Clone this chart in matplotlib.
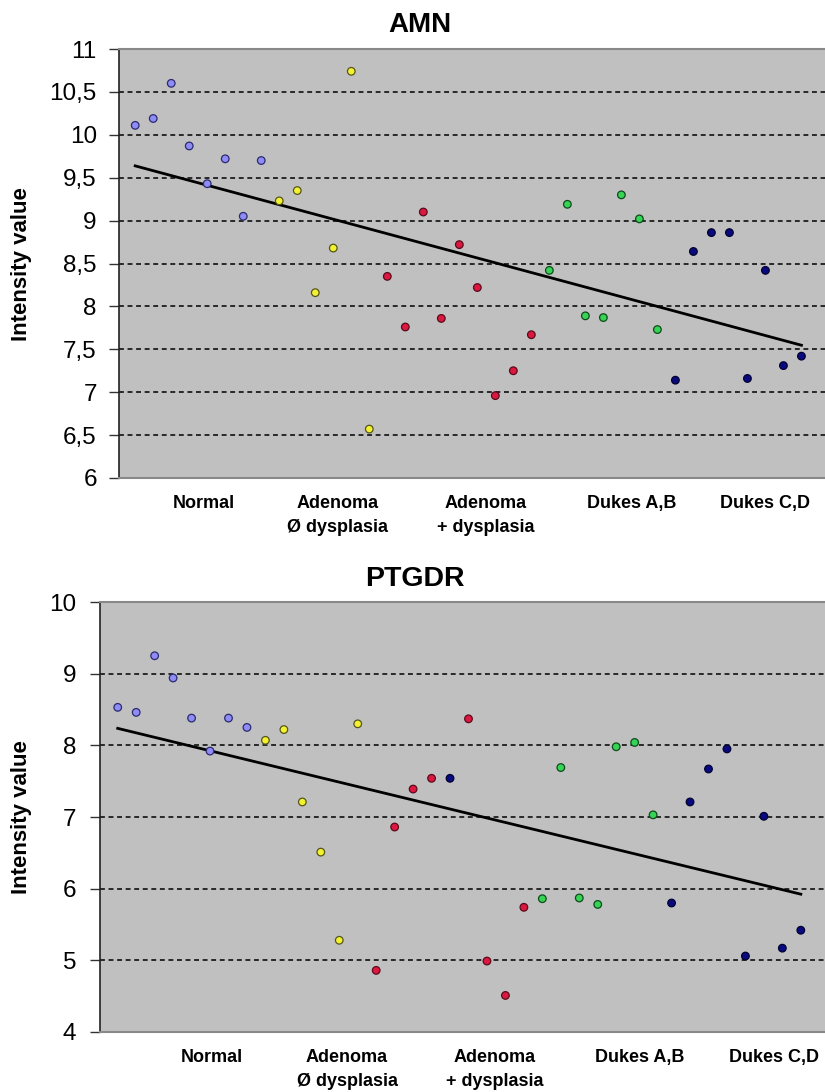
import numpy as np
import matplotlib
matplotlib.use("Agg")
import matplotlib.pyplot as plt
from matplotlib.ticker import FuncFormatter

# ---------------- data ----------------
categories = ["Normal", "Adenoma\nØ dysplasia", "Adenoma\n+ dysplasia", "Dukes A,B", "Dukes C,D"]

# AMN
amn_normal = [10.11, 10.19, 10.60, 9.87, 9.43, 9.72, 9.05, 9.70]
amn_adeno_no = [9.23, 9.35, 8.16, 8.68, 10.74, 6.57]
amn_adeno_dys = [8.35, 7.76, 9.10, 7.86, 8.72, 8.22, 6.96, 7.25, 7.67]
amn_dukes_ab = [8.42, 9.19, 7.89, 7.87, 9.30, 9.02, 7.73]
amn_dukes_cd = [7.14, 8.64, 8.86, 8.86, 7.16, 8.42, 7.31, 7.42]

# PTGDR
ptgdr_normal = [8.53, 8.46, 9.25, 8.94, 8.38, 7.92, 8.38, 8.25]
ptgdr_adeno_no = [8.07, 8.22, 7.21, 6.51, 5.28, 8.30]
ptgdr_adeno_dys = [4.86, 6.86, 7.39, 7.54, 7.54, 8.37, 4.99, 4.51, 5.74]
ptgdr_adeno_dys_class = [2, 2, 2, 2, 4, 2, 2, 2, 2]   # one point plotted in the Dukes C,D colour
ptgdr_dukes_ab = [5.86, 7.69, 5.87, 5.78, 7.98, 8.04, 7.03]
ptgdr_dukes_cd = [5.80, 7.21, 7.67, 7.95, 5.06, 7.01, 5.17, 5.42]

amn_yticks = [6, 6.5, 7, 7.5, 8, 8.5, 9, 9.5, 10, 10.5, 11]
ptgdr_yticks = [4, 5, 6, 7, 8, 9, 10]

amn_label_pos = [4.79, 12.22, 20.48, 28.55, 35.95]
ptgdr_label_pos = [6.1, 13.42, 21.4, 29.3, 36.57]

# ---------------- style ----------------
face_cols = ["#8f8cf5", "#f2f230", "#dc1740", "#36d455", "#0a0a80"]
edge_cols = ["#2a2a70", "#55551a", "#5a0a1a", "#0d4a1a", "#000030"]
BG = "#c0c0c0"

plt.rcParams["font.family"] = ["Liberation Sans", "DejaVu Sans"]

fig = plt.figure(figsize=(8.25, 10.92), dpi=100)

def comma(v, pos):
    s = ("%g" % v)
    return s.replace(".", ",")

def draw(ax, groups, classes, yticks, ylim, xlim, label_pos, tick_pad):
    ax.set_facecolor(BG)
    allv = []
    idx = 1
    for gi, vals in enumerate(groups):
        cls = classes[gi]
        xs = np.arange(idx, idx + len(vals))
        fc = [face_cols[c] for c in cls]
        ec = [edge_cols[c] for c in cls]
        ax.scatter(xs, vals, s=30, c=fc, edgecolors=ec, linewidths=0.9, zorder=4)
        allv.extend(vals)
        idx += len(vals)
    xall = np.arange(1, len(allv) + 1)
    slope, icpt = np.polyfit(xall, allv, 1)
    ax.plot(xall[[0, -1]], icpt + slope * xall[[0, -1]], color="black", lw=2.0, zorder=3)

    ax.set_ylim(*ylim)
    ax.set_xlim(*xlim)
    ax.set_yticks(yticks)
    ax.yaxis.set_major_formatter(FuncFormatter(comma))
    for yv in yticks[1:-1]:
        ax.axhline(yv, color="black", lw=1.1, ls=(0, (3.2, 2.4)), zorder=2)
    ax.tick_params(axis="y", direction="out", length=7, width=1, color="#333333",
                   labelsize=17.5, pad=tick_pad)
    ax.set_xticks(label_pos)
    ax.set_xticklabels(categories, fontsize=13, fontweight="bold")
    ax.tick_params(axis="x", length=0, pad=12)
    for t in ax.get_xticklabels():
        t.set_linespacing(1.6)
    ax.spines["left"].set_color("#222222")
    ax.spines["left"].set_linewidth(1.2)
    for s in ("top", "bottom", "right"):
        ax.spines[s].set_color("#888888")
        ax.spines[s].set_linewidth(1.5)

ax1 = fig.add_axes([119 / 825, 1 - 478 / 1092, 1 - 119 / 825 + 0.002, (478 - 49) / 1092])
draw(ax1,
     [amn_normal, amn_adeno_no, amn_adeno_dys, amn_dukes_ab, amn_dukes_cd],
     [[0] * 8, [1] * 6, [2] * 9, [3] * 7, [4] * 8],
     amn_yticks, (6, 11), (0.1, 39.4), amn_label_pos, 9)

ax2 = fig.add_axes([100 / 825, 1 - 1032 / 1092, 1 - 100 / 825 + 0.002, (1032 - 602) / 1092])
draw(ax2,
     [ptgdr_normal, ptgdr_adeno_no, ptgdr_adeno_dys, ptgdr_dukes_ab, ptgdr_dukes_cd],
     [[0] * 8, [1] * 6, ptgdr_adeno_dys_class, [3] * 7, [4] * 8],
     ptgdr_yticks, (4, 10), (0.04, 39.4), ptgdr_label_pos, 10)

fig.text(420 / 825, 1 - 32 / 1092, "AMN", ha="center", va="baseline",
         fontsize=20, fontweight="bold")
fig.text(415 / 825, 1 - 586 / 1092, "PTGDR", ha="center", va="baseline",
         fontsize=20.5, fontweight="bold")
fig.text(22 / 825, 1 - 264 / 1092, "Intensity value", rotation=90, ha="center",
         va="center", fontsize=16, fontweight="bold")
fig.text(22 / 825, 1 - 817 / 1092, "Intensity value", rotation=90, ha="center",
         va="center", fontsize=16, fontweight="bold")

fig.savefig("out.png", dpi=100, facecolor="white")
